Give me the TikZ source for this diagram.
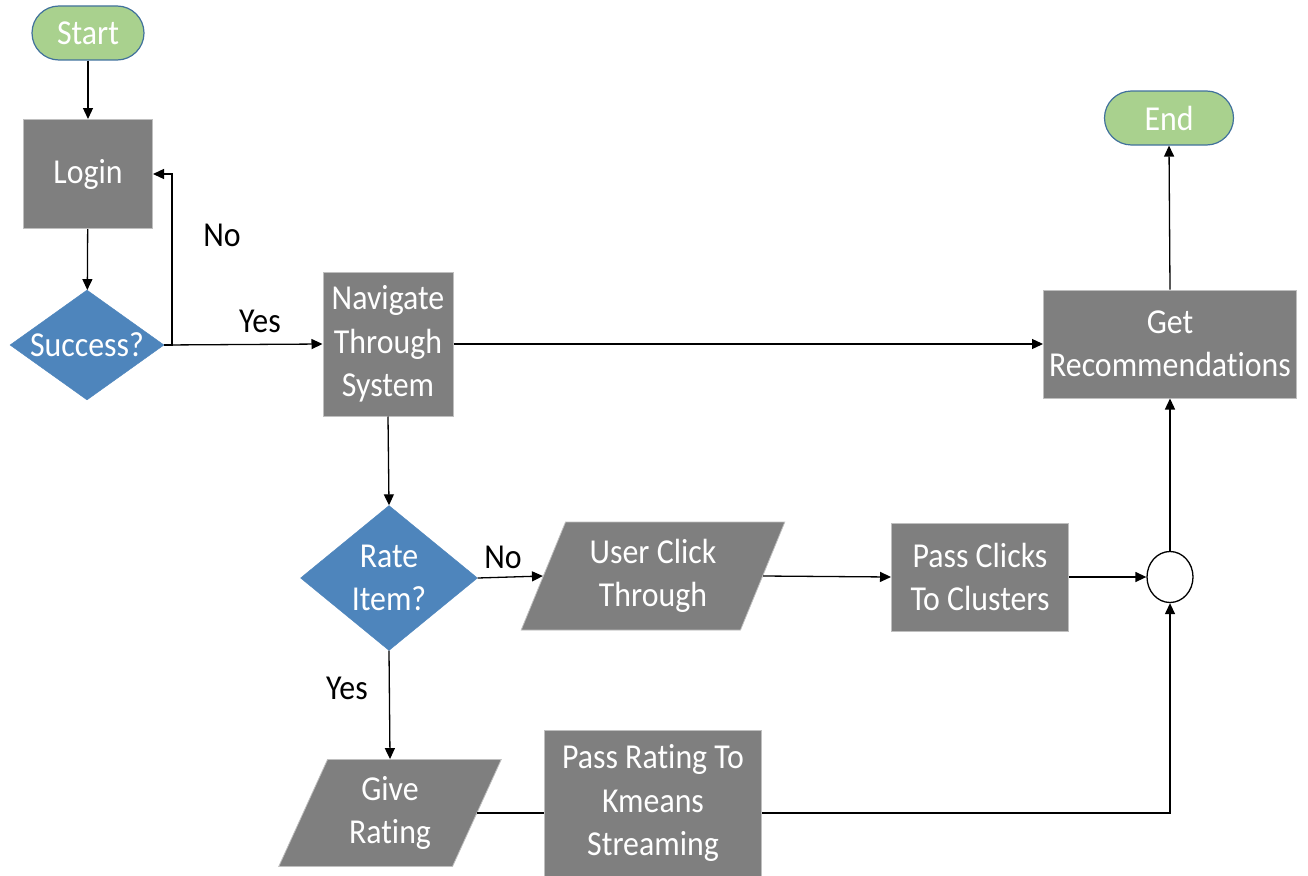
\documentclass[tikz,border=0pt]{standalone}
\usepackage{fontspec}
\setmainfont{Carlito}[FakeStretch=0.91,Ligatures=NoCommon]
\usetikzlibrary{shapes.geometric,arrows.meta,calc}
\definecolor{boxgray}{HTML}{7F7F7F}
\definecolor{boxedge}{HTML}{BFBFBF}
\definecolor{termfill}{HTML}{A9D18E}
\definecolor{termedge}{HTML}{41719C}
\definecolor{decfill}{HTML}{4E85BC}
\begin{document}
\begin{tikzpicture}[x=1pt,y=-1pt,
  every node/.style={font=\fontsize{35}{43.5}\selectfont},
  terminal/.style={rectangle, rounded corners=27pt, draw=termedge, line width=1.2pt,
    fill=termfill, text=white, minimum height=54pt, inner sep=0pt},
  procbox/.style={rectangle, draw=boxedge, line width=1pt, fill=boxgray, text=white,
    align=center, inner sep=0pt},
  iobox/.style={trapezium, trapezium left angle=66.5, trapezium right angle=113.5,
    trapezium stretches=true, draw=boxedge, line width=0.8pt, fill=boxgray,
    text=white, align=center, inner sep=0pt},
  decision/.style={diamond, fill=decfill, draw=decfill, inner sep=0pt},
  dectext/.style={text=white, align=center},
  junction/.style={ellipse, draw=black, line width=1.3pt, fill=white,
    minimum width=46pt, minimum height=51pt, inner sep=0pt},
  lbl/.style={text=black},
  flow/.style={line width=1.3pt, -{Triangle[length=11pt,width=10pt]}},
  plain/.style={line width=1.3pt}]
\useasboundingbox (0,0) rectangle (1308,875);

% terminals
\node[terminal, minimum width=112pt] (start) at (88,33) {Start};
\node[terminal, minimum width=129pt] (end) at (1169,118) {End};

% process boxes
\node[procbox, minimum width=129pt, minimum height=109pt] (login) at (88,174) {Login};
\node[procbox, minimum width=130pt, minimum height=144pt] (nav) at (388,344) {Navigate\\Through\\System};
\node[procbox, minimum width=253pt, minimum height=108pt] (rec) at (1170,344) {Get\\Recommendations};
\node[procbox, minimum width=177pt, minimum height=108pt] (clusters) at (980,577) {Pass Clicks\\To Clusters};
\node[procbox, minimum width=217pt, minimum height=146pt] (passr) at (653,803) {Pass Rating To\\Kmeans\\Streaming};

% decisions
\node[decision, minimum width=154pt, minimum height=110pt,
  label={[dectext]center:Success?}] (succ) at (87,345) {};
\node[decision, minimum width=177pt, minimum height=145pt,
  label={[dectext]center:Rate\\Item?}] (rate) at (389,578) {};

% input/output
\node[iobox, minimum width=264pt, minimum height=108pt] (click) at (653,576) {User Click\\Through};
\node[iobox, minimum width=223pt, minimum height=107pt] (give) at (390,813) {Give\\Rating};

% merge point
\node[junction] (join) at (1170,577) {};

% connectors
\draw[flow] (start) -- (login);
\draw[flow] (login) -- (succ);
\draw[flow] (succ.east) -| ($(login.east)+(19,0)$) -- (login.east);
\draw[flow] (succ.east) -- (nav.west);
\draw[flow] (nav.east) -- (rec.west);
\draw[flow] (rec.north) -- (end.south);
\draw[flow] (nav.south) -- (rate.north);
\draw[flow] (rate.east) -- (click.west);
\draw[flow] (click.east) -- (clusters.west);
\draw[flow] (clusters.east) -- (join.west);
\draw[flow] (join.north) -- (rec.south);
\draw[flow] (rate.south) -- (give.north);
\draw[plain] (give.east) -- (give.east -| passr.west);
\draw[flow] (give.east -| passr.east) -| (join.south);

% branch labels
\node[lbl] (lno1) at (222,235) {No};
\node[lbl] (lyes1) at (260,321) {Yes};
\node[lbl] (lno2) at (503,557) {No};
\node[lbl] (lyes2) at (347,688) {Yes};
\end{tikzpicture}
\end{document}
